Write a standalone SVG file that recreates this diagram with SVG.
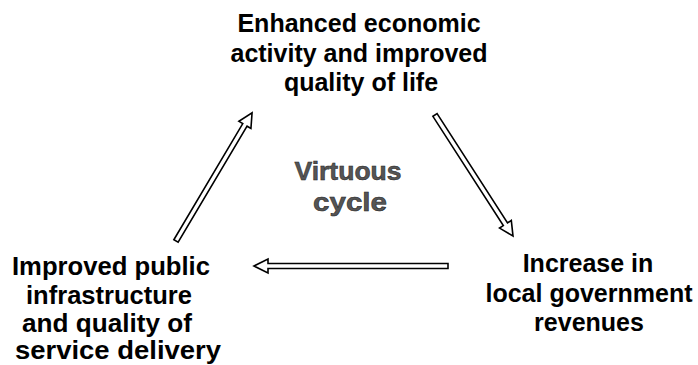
<svg xmlns="http://www.w3.org/2000/svg" width="698" height="365" viewBox="0 0 698 365">
<defs>
<style>
.lbl{font-family:"Liberation Sans",Arial,sans-serif;font-weight:bold;font-size:25px;fill:#000;text-anchor:middle}
.mid{font-family:"Liberation Sans",Arial,sans-serif;font-weight:bold;font-size:25px;fill:#555;text-anchor:middle;stroke:#222;stroke-width:0.5}
.arr{fill:#fff;stroke:#000;stroke-width:1.6;stroke-linejoin:miter}
</style>
</defs>
<rect width="698" height="365" fill="#fff"/>
<g id="node-top">
<text class="lbl" x="359" y="32">Enhanced economic</text>
<text class="lbl" x="359" y="62">activity and improved</text>
<text class="lbl" x="361" y="91">quality of life</text>
</g>
<g id="node-right">
<text class="lbl" x="588" y="272">Increase in</text>
<text class="lbl" x="589" y="302">local government</text>
<text class="lbl" x="589" y="331">revenues</text>
</g>
<g id="node-left">
<text class="lbl" x="111" y="275" textLength="198" lengthAdjust="spacingAndGlyphs">Improved public</text>
<text class="lbl" x="109" y="304" textLength="166" lengthAdjust="spacingAndGlyphs">infrastructure</text>
<text class="lbl" x="107" y="332" textLength="170" lengthAdjust="spacingAndGlyphs">and quality of</text>
<text class="lbl" x="118" y="359" textLength="206" lengthAdjust="spacingAndGlyphs">service delivery</text>
</g>
<g id="center-label">
<text class="mid" x="348" y="180" textLength="107" lengthAdjust="spacingAndGlyphs">Virtuous</text>
<text class="mid" x="350" y="211" textLength="74" lengthAdjust="spacingAndGlyphs">cycle</text>
</g>
<g id="connectors">
<polygon class="arr" transform="translate(176,241) rotate(-59.3)" points="0,-2.5 135,-2.5 135,-7 149,0 135,7 135,2.5 0,2.5"/>
<polygon class="arr" transform="translate(435,115) rotate(57.2)" points="0,-2.5 130,-2.5 130,-7 144,0 130,7 130,2.5 0,2.5"/>
<polygon class="arr" transform="translate(448,266) rotate(180)" points="0,-2.5 180,-2.5 180,-7 194,0 180,7 180,2.5 0,2.5"/>
</g>
</svg>
